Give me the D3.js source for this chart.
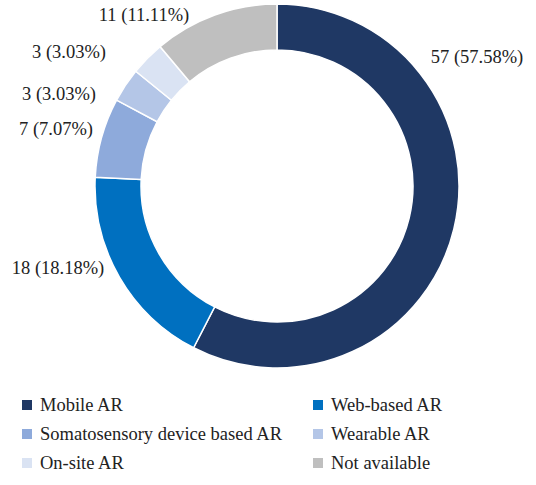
<!DOCTYPE html>
<html><head><meta charset="utf-8">
<script src="https://cdn.jsdelivr.net/npm/d3@7"></script>
<style>body{margin:0;background:#fff}text{font-family:"Liberation Serif","Times New Roman",serif;fill:#222}</style>
</head><body><svg id="c" width="536" height="485"></svg>
<script>
const categories = ['Mobile AR', 'Web-based AR', 'Somatosensory device based AR', 'Wearable AR', 'On-site AR', 'Not available']
const counts = [57, 18, 7, 3, 3, 11]
const pctLabels = ['57.58%', '18.18%', '7.07%', '3.03%', '3.03%', '11.11%']
const colors = ['#1f3864', '#0070c0', '#8eaadb', '#b4c6e7', '#dae3f3', '#bfbfbf']
// label anchor points (layout only)
const labelXY = [[477, 57], [58, 268], [56, 129], [59, 94], [69, 52], [144, 15]]

const svg = d3.select('#c')
const cx = 277, cy = 186, R = 182, r = 136

const pie = d3.pie().sort(null).value(d => d)
const arc = d3.arc().innerRadius(r).outerRadius(R)

svg.append('g').attr('transform', `translate(${cx},${cy})`)
    .selectAll('path').data(pie(counts)).enter().append('path')
    .attr('d', arc)
    .attr('fill', (d, i) => colors[i])
    .attr('stroke', '#fff').attr('stroke-width', 1.5)

svg.selectAll('.lbl').data(counts).enter().append('text')
    .attr('x', (d, i) => labelXY[i][0]).attr('y', (d, i) => labelXY[i][1])
    .attr('text-anchor', 'middle').attr('dominant-baseline', 'central')
    .attr('font-size', 18.5)
    .text((d, i) => `${d} (${pctLabels[i]})`)

const leg = svg.selectAll('.leg').data(categories).enter().append('g')
    .attr('transform', (d, i) => `translate(${i % 2 ? 313 : 22},${405 + Math.floor(i / 2) * 29})`)
leg.append('rect').attr('x', 0).attr('y', -5).attr('width', 10).attr('height', 10)
    .attr('fill', (d, i) => colors[i])
leg.append('text').attr('x', 18).attr('y', 0).attr('dominant-baseline', 'central')
    .attr('font-size', 18.5).text(d => d)
</script></body></html>
